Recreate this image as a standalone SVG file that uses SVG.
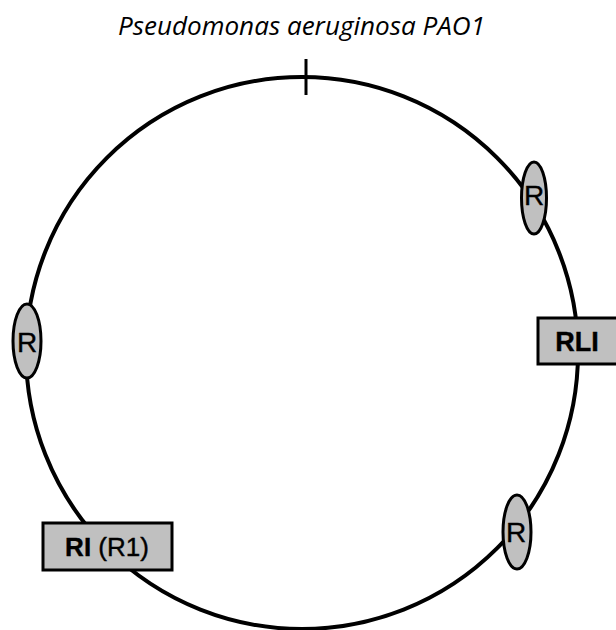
<svg xmlns="http://www.w3.org/2000/svg" width="616" height="630" viewBox="0 0 616 630">
<style>
.node{fill:#c0c0c0;stroke:#000;stroke-width:3}
.lbl{font-family:"Liberation Sans",Arial,sans-serif;fill:#000;text-anchor:middle;stroke:#000;stroke-width:0.4}
.title{font-family:"Open Sans","Liberation Sans",sans-serif;font-style:italic;fill:#000}
</style>
<rect width="616" height="630" fill="#fff"/>
<text class="title" x="118" y="35" font-size="25" textLength="367" lengthAdjust="spacingAndGlyphs">Pseudomonas aeruginosa PAO1</text>
<g id="connectors">
<circle cx="302" cy="353" r="276" fill="none" stroke="#000" stroke-width="4"/>
<line x1="306" y1="59" x2="306" y2="95" stroke="#000" stroke-width="3"/>
</g>
<g id="r-upper-right">
<ellipse class="node" cx="534" cy="198" rx="12.5" ry="36"/>
<text class="lbl" x="534" y="205" font-size="28">R</text>
</g>
<g id="r-left">
<ellipse class="node" cx="27" cy="341" rx="14" ry="37"/>
<text class="lbl" x="27" y="352" font-size="28">R</text>
</g>
<g id="r-lower-right">
<ellipse class="node" cx="517" cy="532" rx="14" ry="37"/>
<text class="lbl" x="516" y="542" font-size="28">R</text>
</g>
<g id="rli">
<rect class="node" x="538" y="318" width="82" height="46"/>
<text class="lbl" x="577" y="351" font-size="27" font-weight="bold">RLI</text>
</g>
<g id="ri">
<rect class="node" x="43" y="523" width="129" height="47"/>
<text class="lbl" x="107" y="556" font-size="26"><tspan font-weight="bold">RI</tspan> (R1)</text>
</g>
</svg>
